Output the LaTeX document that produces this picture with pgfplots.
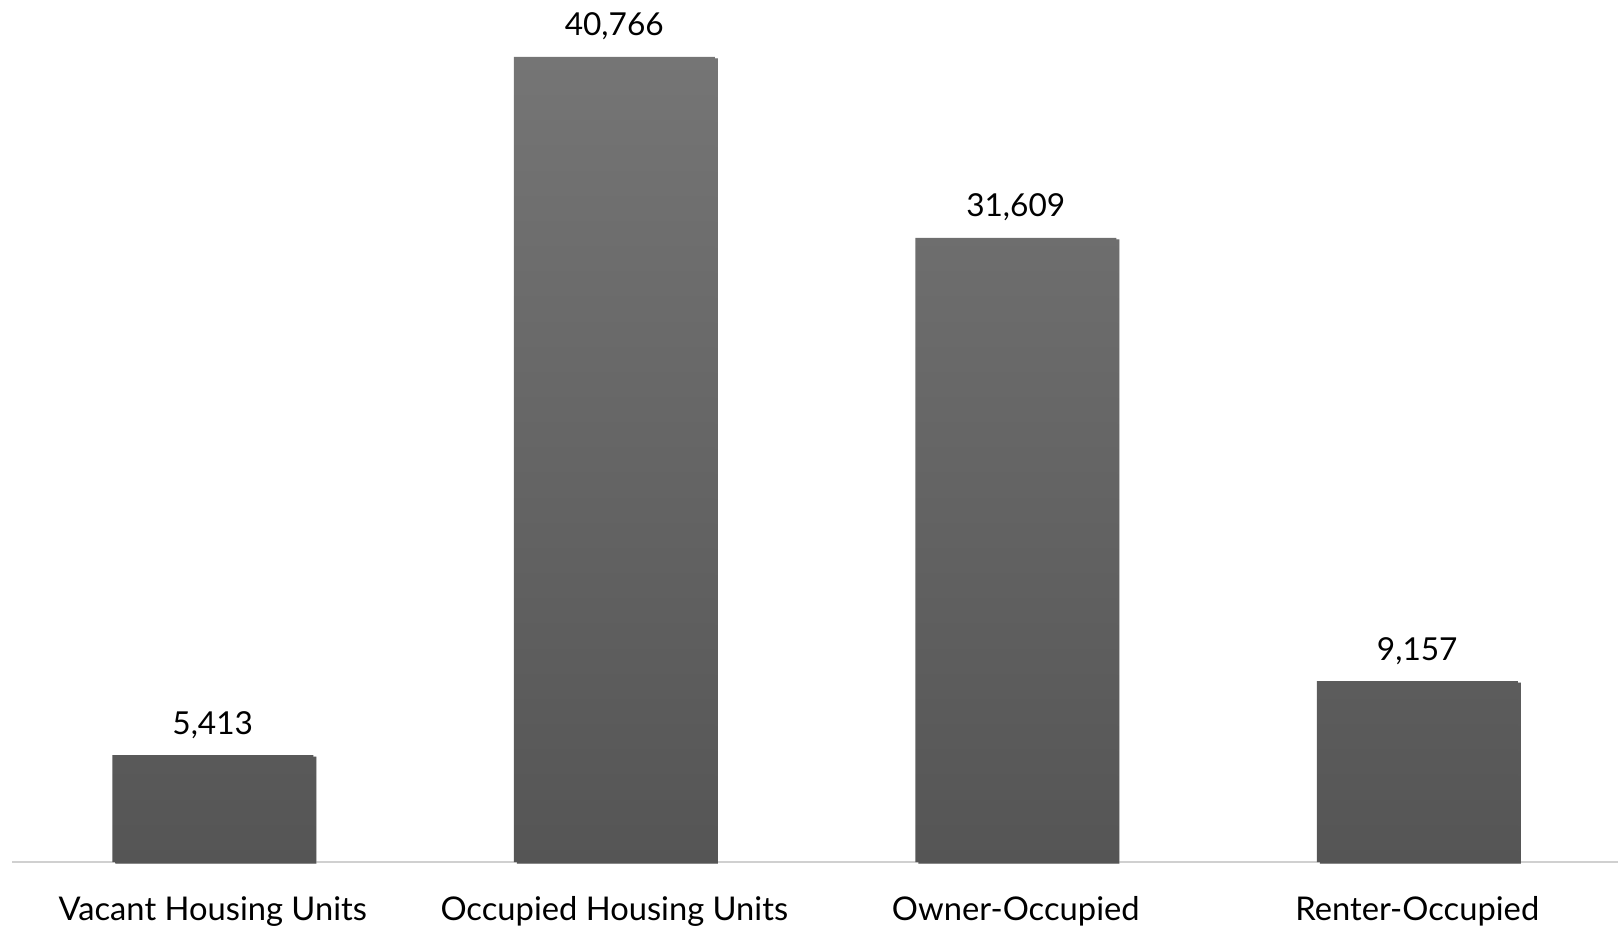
\documentclass[border=0pt]{standalone}
\usepackage{fontspec}
\setmainfont{Lato}
\usepackage{pgfplots}
\pgfplotsset{compat=1.18}
\definecolor{bartop}{HTML}{757575}
\definecolor{barbot}{HTML}{555555}
\definecolor{axisgray}{HTML}{D0D0D0}
\begin{document}
\begin{tikzpicture}
\begin{axis}[
  scale only axis,
  width=160.6mm, height=86.2mm,
  xmin=-0.5, xmax=3.5, ymin=0, ymax=43650,
  axis x line=bottom, axis y line=none,
  x axis line style={draw=axisgray, line width=0.2mm, -},
  xtick=data, xtick style={draw=none}, ytick=\empty,
  xticklabels={Vacant Housing Units, Occupied Housing Units, Owner-Occupied, Renter-Occupied},
  xticklabel style={font=\fontsize{9.3}{11}\selectfont, anchor=base, yshift=-4.35mm},
  ybar, bar width=20.1mm,
  nodes near coords,
  every node near coord/.append style={font=\fontsize{9}{11}\selectfont, anchor=base, yshift=2.1mm, text=black},
  /pgf/number format/1000 sep={,},
  /pgf/number format/assume math mode=true,
  clip=false,
]
\addplot[draw=none, top color=bartop, bottom color=barbot,
  preaction={fill=black!12, transform canvas={xshift=0.3mm, yshift=-0.15mm}}]
  coordinates {(0,5413) (1,40766) (2,31609) (3,9157)};
\end{axis}
\pgfresetboundingbox
\path (-1.2mm,-7.9mm) rectangle (160.8mm,86.2mm);
\end{tikzpicture}
\end{document}
